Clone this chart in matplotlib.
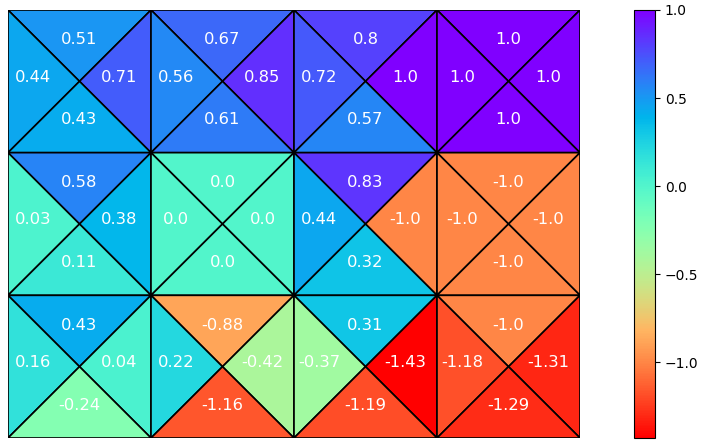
import matplotlib
matplotlib.use('Agg')
import matplotlib.pyplot as plt
from matplotlib.patches import Polygon
from matplotlib.collections import PatchCollection
from matplotlib.colors import Normalize

# q-values per state (rows top->bottom, cols left->right)
q_top = [[0.51, 0.67, 0.8, 1.0],
         [0.58, 0.0, 0.83, -1.0],
         [0.43, -0.88, 0.31, -1.0]]
q_left = [[0.44, 0.56, 0.72, 1.0],
          [0.03, 0.0, 0.44, -1.0],
          [0.16, 0.22, -0.37, -1.18]]
q_right = [[0.71, 0.85, 1.0, 1.0],
           [0.38, 0.0, -1.0, -1.0],
           [0.04, -0.42, -1.43, -1.31]]
q_bottom = [[0.43, 0.61, 0.57, 1.0],
            [0.11, 0.0, 0.32, -1.0],
            [-0.24, -1.16, -1.19, -1.29]]

n_rows, n_cols = 3, 4

fig = plt.figure(figsize=(7.03, 4.47), dpi=100)
ax = fig.add_axes([8/703, 9/447, 572/703, 428/447])
cax = fig.add_axes([634/703, 9/447, 21/703, 428/447])

patches = []
vals = []
for r in range(n_rows):
    for c in range(n_cols):
        x0, y0 = c, r
        x1, y1 = c + 1, r + 1
        cx, cy = c + 0.5, r + 0.5
        patches.append(Polygon([(x0, y0), (x1, y0), (cx, cy)]))
        vals.append(q_top[r][c])
        patches.append(Polygon([(x0, y0), (x0, y1), (cx, cy)]))
        vals.append(q_left[r][c])
        patches.append(Polygon([(x1, y0), (x1, y1), (cx, cy)]))
        vals.append(q_right[r][c])
        patches.append(Polygon([(x0, y1), (x1, y1), (cx, cy)]))
        vals.append(q_bottom[r][c])

        fs = 11.8
        ax.text(cx, r + 0.21, str(q_top[r][c]), color='white', ha='center', va='center', fontsize=fs)
        ax.text(c + 0.175, r + 0.47, str(q_left[r][c]), color='white', ha='center', va='center', fontsize=fs)
        ax.text(c + 0.78, r + 0.47, str(q_right[r][c]), color='white', ha='center', va='center', fontsize=fs)
        ax.text(cx, r + 0.77, str(q_bottom[r][c]), color='white', ha='center', va='center', fontsize=fs)

norm = Normalize(vmin=min(vals), vmax=max(vals))
pc = PatchCollection(patches, cmap='rainbow_r', norm=norm, edgecolor='black', linewidth=1.2)
pc.set_array(vals)
pc.set_zorder(1)
ax.add_collection(pc)

ax.set_xlim(0, n_cols)
ax.set_ylim(n_rows, 0)
ax.axis('off')

fig.colorbar(pc, cax=cax)

fig.savefig('out.png')
